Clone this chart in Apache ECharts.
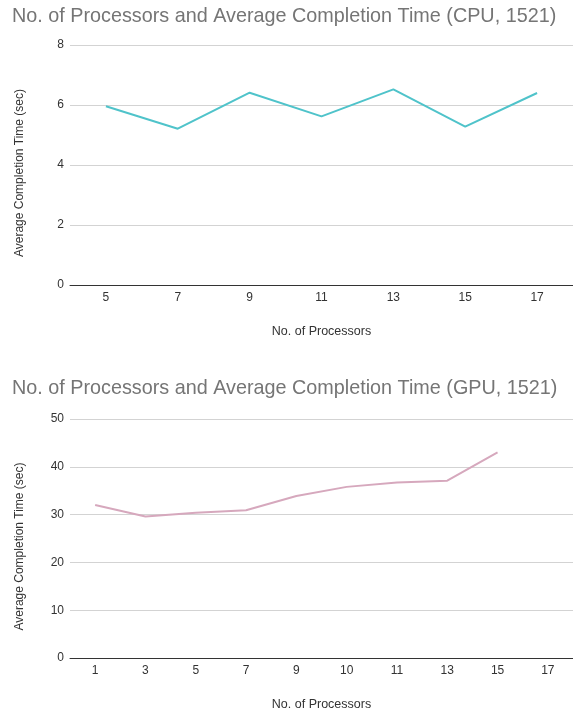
<!DOCTYPE html>
<html>
<head>
<meta charset="utf-8">
<script src="https://cdn.jsdelivr.net/npm/echarts@6/dist/echarts.min.js"></script>
<style>
  html, body { margin: 0; padding: 0; background: #fff; }
  #chart { width: 573px; height: 714px; }
</style>
</head>
<body>
<div id="chart"></div>
<script>
// CPU run: processors vs. average completion time
const cpuProcessors = ['5', '7', '9', '11', '13', '15', '17'];
const cpuTimes = [5.96, 5.21, 6.41, 5.62, 6.52, 5.28, 6.40];

// GPU run: processors vs. average completion time (no value for 17)
const gpuProcessors = ['1', '3', '5', '7', '9', '10', '11', '13', '15', '17'];
const gpuTimes = [32.0, 29.6, 30.4, 30.9, 33.9, 35.8, 36.7, 37.1, 43.0, null];

const cpuTicks = { min: 0, max: 8, interval: 2 };
const gpuTicks = { min: 0, max: 50, interval: 10 };

const FONT = '"Liberation Sans", Arial, sans-serif';

function xAxisFor(gridIndex, cats) {
  return {
    type: 'category',
    gridIndex,
    data: cats,
    boundaryGap: true,
    name: 'No. of Processors',
    nameLocation: 'middle',
    nameGap: 40,
    nameTextStyle: { fontFamily: FONT, fontSize: 12.5, color: '#333' },
    axisLine: { lineStyle: { color: '#333', width: 1 } },
    axisTick: { show: false },
    axisLabel: { fontFamily: FONT, fontSize: 12, color: '#333', margin: 7 }
  };
}

function yAxisFor(gridIndex, ticks) {
  return {
    type: 'value',
    gridIndex,
    min: ticks.min,
    max: ticks.max,
    interval: ticks.interval,
    name: 'Average Completion Time (sec)',
    nameLocation: 'middle',
    nameGap: 44,
    // nudge the rotated title slightly below the plot's midpoint
    nameTextStyle: { fontFamily: FONT, fontSize: 12, color: '#333', padding: [0, 16, 0, 0] },
    axisLine: { show: false },
    axisTick: { show: false },
    axisLabel: { fontFamily: FONT, fontSize: 12, color: '#333', margin: 6 },
    splitLine: { lineStyle: { color: '#d3d3d3', width: 1 } }
  };
}

const chart = echarts.init(document.getElementById('chart'), null, { renderer: 'canvas' });
chart.setOption({
  backgroundColor: '#fff',
  animation: false,
  title: [
    {
      text: 'No. of Processors and Average Completion Time (CPU, 1521)',
      left: 7, top: 2,
      textStyle: { fontFamily: FONT, fontSize: 19.8, fontWeight: 'normal', color: '#757575' }
    },
    {
      text: 'No. of Processors and Average Completion Time (GPU, 1521)',
      left: 7, top: 374,
      textStyle: { fontFamily: FONT, fontSize: 19.8, fontWeight: 'normal', color: '#757575' }
    }
  ],
  grid: [
    { left: 70, right: 0, top: 45, height: 240 },
    { left: 70, right: 0, top: 419, height: 239 }
  ],
  xAxis: [xAxisFor(0, cpuProcessors), xAxisFor(1, gpuProcessors)],
  yAxis: [yAxisFor(0, cpuTicks), yAxisFor(1, gpuTicks)],
  series: [
    {
      type: 'line',
      xAxisIndex: 0, yAxisIndex: 0,
      data: cpuTimes,
      showSymbol: false,
      lineStyle: { color: '#4fc3ca', width: 2 },
      itemStyle: { color: '#4fc3ca' }
    },
    {
      type: 'line',
      xAxisIndex: 1, yAxisIndex: 1,
      data: gpuTimes,
      showSymbol: false,
      lineStyle: { color: '#d6a8bd', width: 2 },
      itemStyle: { color: '#d6a8bd' }
    }
  ]
});
</script>
</body>
</html>
